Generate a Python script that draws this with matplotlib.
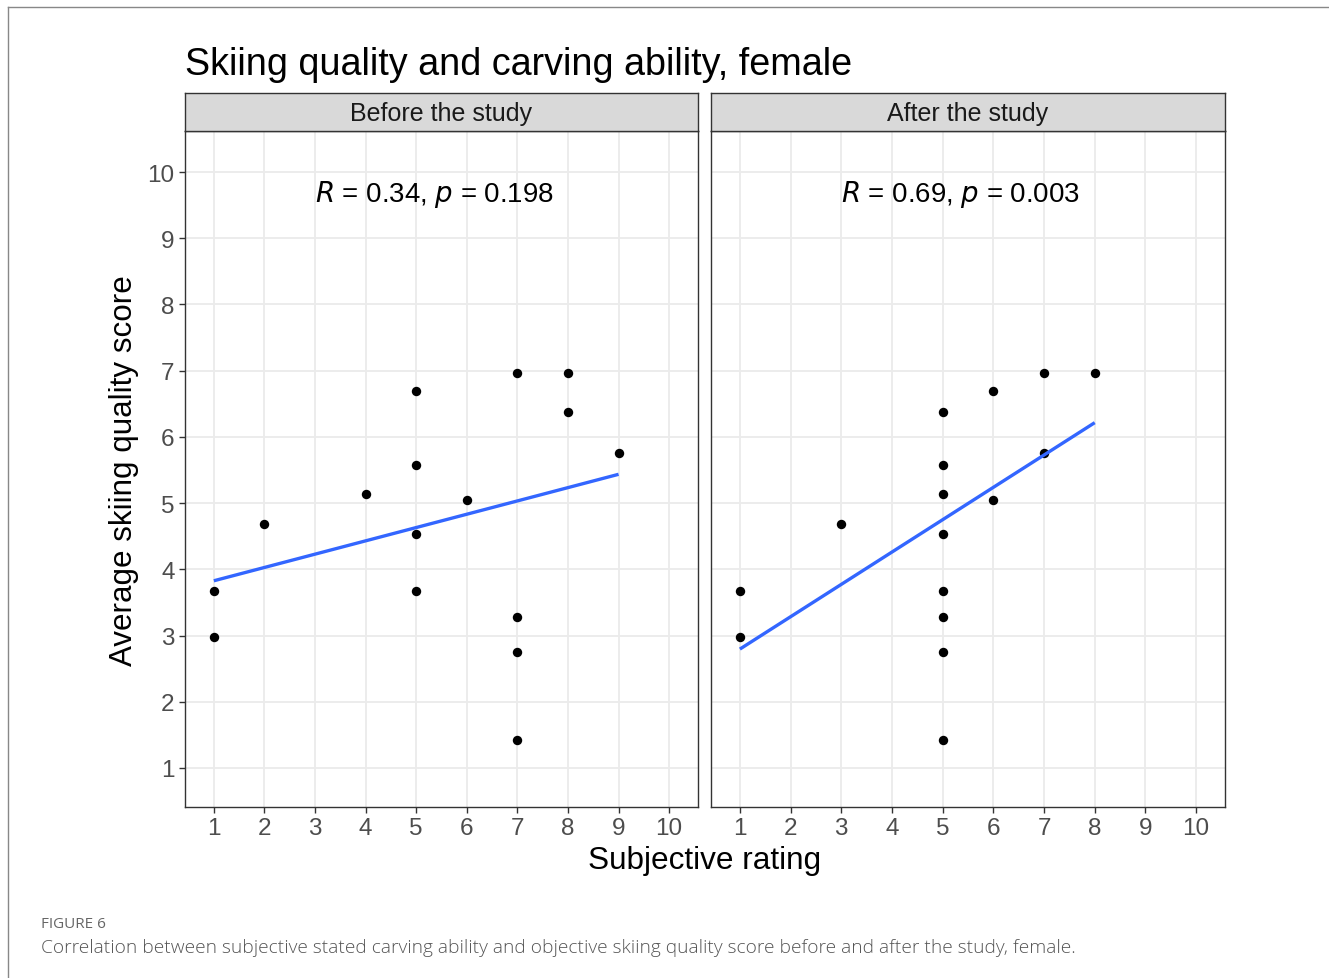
import numpy as np
import matplotlib
matplotlib.use("Agg")
import matplotlib.pyplot as plt
from matplotlib.lines import Line2D

plt.rcParams['font.family'] = ['Liberation Sans', 'DejaVu Sans']

title = "Skiing quality and carving ability, female"
panels = ["Before the study", "After the study"]
x_before = [1, 1, 2, 4, 5, 5, 5, 5, 6, 7, 7, 7, 7, 8, 8, 9]
y_before = [3.67, 2.98, 4.69, 5.13, 6.70, 5.57, 4.53, 3.67, 5.05, 6.97, 3.28, 2.75, 1.42, 6.97, 6.37, 5.75]
x_after = [1, 1, 3, 5, 5, 5, 5, 5, 5, 5, 5, 6, 6, 7, 7, 8]
y_after = [3.67, 2.98, 4.69, 6.37, 5.57, 5.13, 4.53, 3.67, 3.28, 2.75, 1.42, 6.70, 5.05, 6.97, 5.75, 6.97]
r_values = ["0.34", "0.69"]
p_values = ["0.198", "0.003"]
ticks = list(range(1, 11))
xlabel = "Subjective rating"
ylabel = "Average skiing quality score"
fig_label = "FIGURE 6"
caption = ("Correlation between subjective stated carving ability and objective skiing quality "
           "score before and after the study, female.")

W, H = 1329, 979
fig = plt.figure(figsize=(W / 100, H / 100), dpi=100)

def fx(px):
    return px / W

def fy(py):
    return 1 - py / H

# outer frame
fig.add_artist(Line2D([fx(8), fx(8)], [fy(8), fy(979)], color="#888888", lw=1.0))
fig.add_artist(Line2D([fx(8), 1], [fy(8), fy(8)], color="#888888", lw=1.0))

data = [(x_before, y_before), (x_after, y_after)]
lefts = [185, 711]
rights = [698, 1225]
top_plot, bot_plot, strip_top = 132, 808, 94
edge = "#333333"

for i, (xs, ys) in enumerate(data):
    l, r = lefts[i], rights[i]
    ax = fig.add_axes([fx(l), fy(bot_plot), (r - l) / W, (bot_plot - top_plot) / H])
    ax.set_xlim(0.43, 10.57)
    ax.set_ylim(0.41, 10.62)
    ax.set_xticks(ticks)
    ax.set_yticks(ticks)
    ax.grid(True, color="#EBEBEB", lw=1.3)
    ax.set_axisbelow(True)
    for s in ax.spines.values():
        s.set_color(edge)
        s.set_linewidth(1.0)
    ax.tick_params(axis="both", length=4.5, width=1.0, color=edge,
                   labelsize=17.5, labelcolor="#4D4D4D", pad=3)
    if i == 1:
        ax.tick_params(axis="y", left=False, labelleft=False)
    ax.scatter(xs, ys, s=46, color="black", zorder=3, linewidths=0)
    xa = np.array(xs, dtype=float)
    ya = np.array(ys, dtype=float)
    b, a = np.polyfit(xa, ya, 1)
    xl = np.array([xa.min(), xa.max()])
    ax.plot(xl, a + b * xl, color="#3366FF", lw=2.4, zorder=4, solid_capstyle="butt")
    ax.text(3.0, 9.67, f"$\\it{{R}}$ = {r_values[i]}, $\\it{{p}}$ = {p_values[i]}",
            ha="left", va="center", fontsize=19.9, color="black")
    # strip
    sax = fig.add_axes([fx(l), fy(top_plot), (r - l) / W, (top_plot - strip_top) / H])
    sax.set_xticks([])
    sax.set_yticks([])
    sax.set_facecolor("#D9D9D9")
    for s in sax.spines.values():
        s.set_color(edge)
        s.set_linewidth(1.0)
    sax.text(0.5, 0.47, panels[i], ha="center", va="center", fontsize=18, color="#1A1A1A",
             transform=sax.transAxes)

fig.text(fx(185), fy(65), title, ha="left", va="center", fontsize=27.2, color="black")
fig.text(fx(705), fy(861), xlabel, ha="center", va="center", fontsize=22.7, color="black")
fig.text(fx(124), fy(471), ylabel, ha="center", va="center", fontsize=22.6, color="black",
         rotation=90)
fig.text(fx(41), fy(925), fig_label, ha="left", va="center", fontsize=11, color="#666666",
         family=["Open Sans", "DejaVu Sans"], fontweight="medium")
fig.text(fx(41), fy(948), caption, ha="left", va="center", fontsize=13.8, color="#555555",
         family=["Open Sans", "DejaVu Sans"], fontweight="light")

fig.savefig("out.png", dpi=100)
